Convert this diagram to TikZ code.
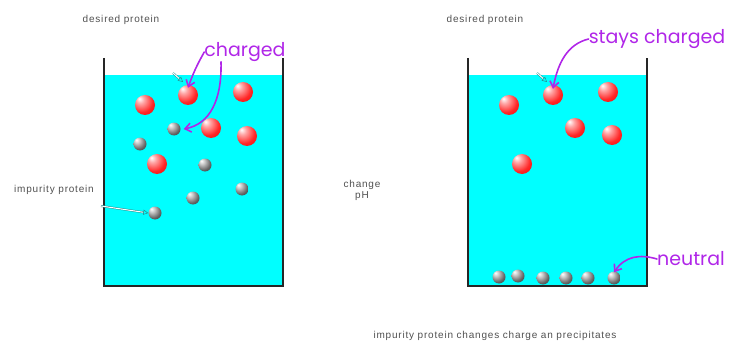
\documentclass[tikz,border=0pt]{standalone}
\usepackage{fontspec}
\setmainfont{Liberation Sans}
\newfontfamily\labelfont[LetterSpace=8]{Liberation Sans}
\newfontfamily\handfont{Poppins}
\usetikzlibrary{arrows.meta}

\definecolor{water}{RGB}{0,255,255}
\definecolor{ink}{RGB}{176,38,232}
\definecolor{pointer}{RGB}{40,140,140}
\definecolor{labelgray}{RGB}{80,80,80}

\pgfdeclareradialshading{redsphere}{\pgfpoint{-14bp}{16bp}}{%
  color(0bp)=(white); color(10bp)=(red!35); color(28bp)=(red!85);
  color(48bp)=(red!92!black); color(70bp)=(red!80!black)}
\pgfdeclareradialshading{graysphere}{\pgfpoint{-14bp}{16bp}}{%
  color(0bp)=(white); color(10bp)=(gray!40); color(28bp)=(gray!80!black);
  color(46bp)=(black!85); color(70bp)=(black)}

\tikzset{
  redball/.style={circle, inner sep=0pt, minimum size=20pt, shading=redsphere},
  grayball/.style={circle, inner sep=0pt, minimum size=13pt, shading=graysphere},
  wall/.style={draw=black!85, line width=1.8pt},
  lbl/.style={font=\labelfont\fontsize{10}{11}\selectfont, text=labelgray, inner sep=0pt},
  note/.style={font=\handfont\fontsize{19}{19}\selectfont, text=ink, inner sep=0pt},
  hand/.style={draw=ink, line width=1.6pt, line cap=round, -{Straight Barb[length=6pt, width=9pt]}},
  tag/.style={draw=pointer, line width=0.5pt, double=white, double distance=1pt, -{Triangle[open, length=5pt, width=5pt]}}
}

\begin{document}
\begin{tikzpicture}[x=1pt, y=-1pt]
  \useasboundingbox (0,0) rectangle (730,342);

  % left beaker
  \fill[water] (104,75) rectangle (283,286);
  \draw[wall] (104,58) -- (104,286) -- (283,286) -- (283,58);

  % right beaker
  \fill[water] (468,75) rectangle (647,286);
  \draw[wall] (468,58) -- (468,286) -- (647,286) -- (647,58);

  % proteins before the pH change
  \node[redball] (lr1) at (145,105) {};
  \node[redball] (lr2) at (188,95) {};
  \node[redball] (lr3) at (243,92) {};
  \node[redball] (lr4) at (211,128) {};
  \node[redball] (lr5) at (247,136) {};
  \node[redball] (lr6) at (157,164) {};
  \node[grayball] (lg1) at (174,129) {};
  \node[grayball] (lg2) at (140,144) {};
  \node[grayball] (lg3) at (205,165) {};
  \node[grayball] (lg4) at (242,189) {};
  \node[grayball] (lg5) at (193,198) {};
  \node[grayball] (lg6) at (155,213) {};

  % proteins after the pH change
  \node[redball] (rr1) at (509,105) {};
  \node[redball] (rr2) at (553,95) {};
  \node[redball] (rr3) at (608,92) {};
  \node[redball] (rr4) at (575,128) {};
  \node[redball] (rr5) at (612,135) {};
  \node[redball] (rr6) at (522,164) {};
  \node[grayball] (rg1) at (499,277) {};
  \node[grayball] (rg2) at (518,276) {};
  \node[grayball] (rg3) at (543,278) {};
  \node[grayball] (rg4) at (566,278) {};
  \node[grayball] (rg5) at (588,278) {};
  \node[grayball] (rg6) at (614,278) {};

  % printed labels
  \node[lbl] (ldp) at (121,20) {desired protein};
  \node[lbl] (rdp) at (485,20) {desired protein};
  \node[lbl] (imp) at (54,190) {impurity protein};
  \node[lbl, align=center] (ph) at (362,190) {change\\pH};
  \node[lbl] (cap) at (495,336) {impurity protein changes charge an precipitates};

  % little pointers
  \coordinate (ldpa) at (173,73);
  \coordinate (ldpb) at (183,82);
  \coordinate (rdpa) at (537,73);
  \coordinate (rdpb) at (547,82);
  \coordinate (impt) at (101,206);
  \draw[tag] (ldpa) -- (ldpb);
  \draw[tag] (rdpa) -- (rdpb);
  \draw[tag] (impt) -- (lg6.west);

  % handwritten notes
  \node[note] (chg) at (245,52) {charged};
  \node[note] (stc) at (657,39) {stays charged};
  \node[note] (neu) at (691,259) {neutral};

  \draw[hand] (chg.west) .. controls (200,60) and (195,68) .. ([yshift=-3pt]lr2.north);
  \draw[hand] ([xshift=-24pt]chg.south) .. controls (222,100) and (210,124) .. ([xshift=3pt]lg1.east);
  \draw[hand] (stc.west) .. controls (568,44) and (558,62) .. ([yshift=-4pt]rr2.north);
  \draw[hand] (neu.west) .. controls (640,254) and (625,256) .. ([yshift=-1pt]rg6.north);
\end{tikzpicture}
\end{document}
